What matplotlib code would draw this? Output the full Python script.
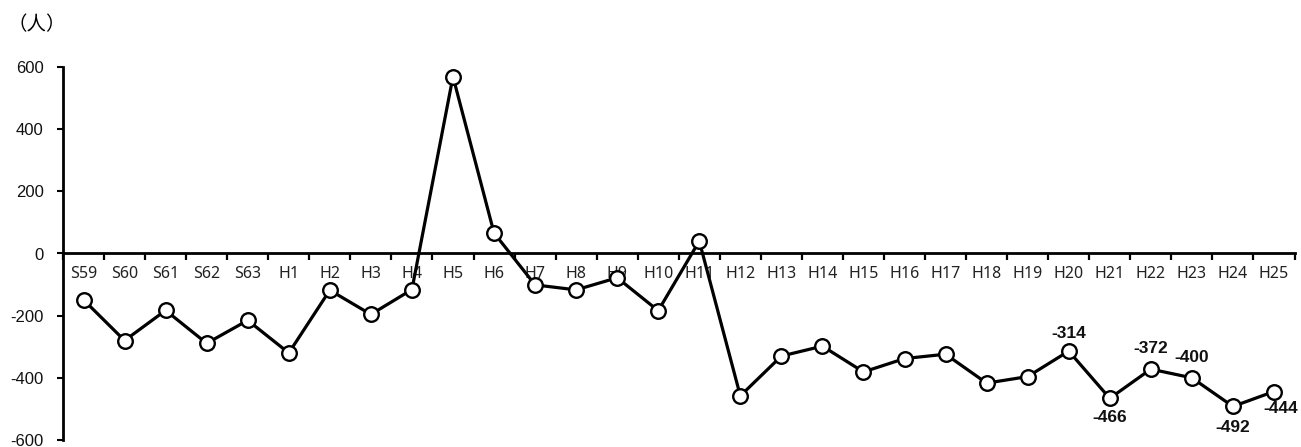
import matplotlib.pyplot as plt
from matplotlib.ticker import FuncFormatter

years = ["S59", "S60", "S61", "S62", "S63", "H1", "H2", "H3", "H4", "H5",
         "H6", "H7", "H8", "H9", "H10", "H11", "H12", "H13", "H14", "H15",
         "H16", "H17", "H18", "H19", "H20", "H21", "H22", "H23", "H24", "H25"]
values = [-149, -280, -183, -289, -215, -320, -118, -196, -116, 569,
          66, -101, -117, -78, -184, 40, -458, -330, -298, -381,
          -338, -324, -417, -396, -314, -466, -372, -400, -492, -444]

# which points get a number: offset (x, y) in points from the marker
labelled = {"H20": (0, 12.5), "H21": (0, -14), "H22": (0, 14.5),
            "H23": (0, 14.5), "H24": (0, -15.5), "H25": (4.5, -12.5)}

fig = plt.figure(figsize=(13.01, 4.47), dpi=100)
ax = fig.add_axes([63 / 1301, 7 / 447, 1231.5 / 1301, 373 / 447])

x = list(range(len(years)))
ax.plot(x, values, color="black", linewidth=2.3, marker="o", markersize=10.5,
        markerfacecolor="white", markeredgecolor="black", markeredgewidth=1.7,
        zorder=3, clip_on=False)

for i, name in enumerate(years):
    if name in labelled:
        ax.annotate(str(values[i]), (i, values[i]), xytext=labelled[name],
                    textcoords="offset points", ha="center", va="center",
                    fontsize=12.5, fontweight="bold", family="Liberation Sans",
                    color="#111111")

ax.set_xlim(-0.5, len(years) - 0.5)
ax.set_ylim(-600, 600)
ax.set_yticks([-600, -400, -200, 0, 200, 400, 600])
ax.yaxis.set_major_formatter(FuncFormatter(lambda v, p: "%d" % v))
ax.tick_params(axis="y", labelsize=12, length=4, width=1.5, direction="out", pad=10)
for lab in ax.get_yticklabels():
    lab.set_family("Liberation Sans")
    lab.set_color("#111111")

ax.spines["top"].set_visible(False)
ax.spines["right"].set_visible(False)
ax.spines["left"].set_linewidth(2)
ax.spines["bottom"].set_position(("data", 0))
ax.spines["bottom"].set_linewidth(2)

ax.set_xticks([i + 0.5 for i in range(-1, len(years))], minor=False)
ax.set_xticklabels([])
ax.tick_params(axis="x", which="major", length=5, width=1.6, direction="out")
ax.set_xticks(x, minor=True)
ax.set_xticklabels(years, minor=True)
ax.tick_params(axis="x", which="minor", length=0, labelsize=11.5, pad=9)
for lab in ax.get_xticklabels(minor=True):
    lab.set_family("Noto Sans")
    lab.set_color("#222222")

fig.text(0.006, 0.944, "（人）", fontsize=14, family=["Noto Sans CJK TC", "DejaVu Sans"],
         ha="left", va="center")

fig.savefig("out.png", dpi=100)
